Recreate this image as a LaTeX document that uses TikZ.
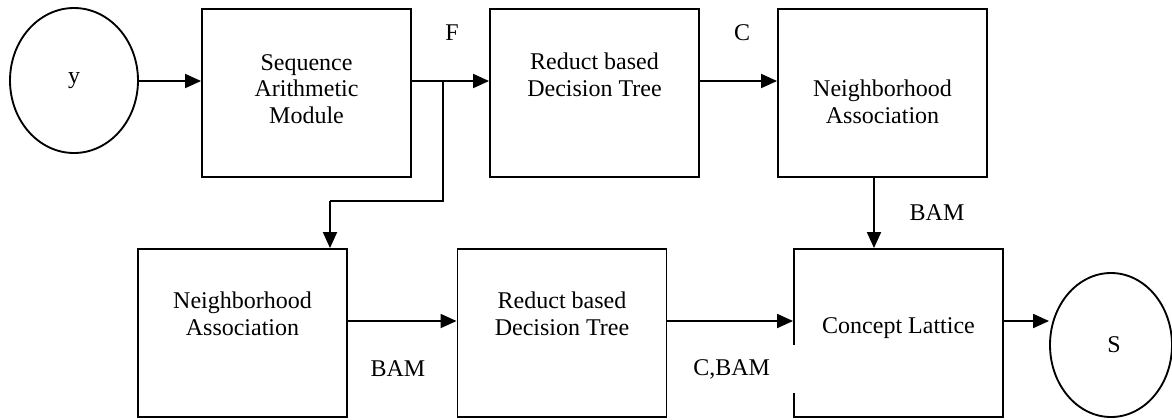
\documentclass[tikz,border=0pt]{standalone}
\usepackage{fontspec}
\setmainfont{Liberation Serif}
\usetikzlibrary{arrows.meta,shapes.geometric}
\begin{document}
\begin{tikzpicture}[x=0.75pt,y=-0.75pt,
  every node/.style={font=\fontsize{18pt}{20pt}\selectfont},
  boxnode/.style={draw,line width=1.4pt,minimum width=156.75pt,minimum height=126pt,inner sep=0pt},
  txt/.style={align=center,inner sep=0pt},
  ell/.style={draw,ellipse,line width=1.4pt,inner sep=0pt},
  arr/.style={line width=1.4pt,-{Triangle[length=12pt,width=10.5pt]}},
  lbl/.style={inner sep=0pt}]
\useasboundingbox (0,0) rectangle (1172,419);
% circles
\node[ell,minimum width=96pt,minimum height=108.75pt] (y) at (74,80.5) {};
\node[lbl] (ytxt) at (74,81) {y};
\node[ell,minimum width=91.5pt,minimum height=108pt] (S) at (1111,345) {};
\node[lbl] (stxt) at (1114,345) {S};
% boxes
\node[boxnode] (b1) at (306.5,93) {};
\node[boxnode] (b2) at (594.5,93) {};
\node[boxnode] (b3) at (882.5,93) {};
\node[boxnode] (b4) at (242.5,333) {};
\node[boxnode] (b5) at (562,333) {};
\node[boxnode] (b6) at (898.5,333) {};
% box texts
\node[txt] (t1) at (306.5,89) {Sequence\\Arithmetic\\Module};
\node[txt] (t2) at (594.5,75) {Reduct based\\Decision Tree};
\node[txt] (t3) at (882.5,102) {Neighborhood\\Association};
\node[txt] (t4) at (242.5,314) {Neighborhood\\Association};
\node[txt] (t5) at (562,314) {Reduct based\\Decision Tree};
\node[txt] (t6) at (898.5,328) {Concept Lattice};
% coordinates
\coordinate (split) at (443,81);
\coordinate (bend) at (330,201);
\coordinate (drop) at (874,0);
\coordinate (row2) at (0,321);
% connectors
\draw[arr] (y.east |- split) -- (b1.west |- split);
\draw[arr] (b1.east |- split) -- (b2.west |- split);
\draw[line width=1.4pt] (split) |- (bend);
\draw[arr] (bend) -- (b4.north -| bend);
\draw[arr] (b2.east |- split) -- (b3.west |- split);
\draw[arr] (b3.south -| drop) -- (b6.north -| drop);
\draw[arr] (b4.east |- row2) -- (b5.west |- row2);
\draw[arr] (b5.east |- row2) -- (b6.west |- row2);
\draw[arr] (b6.east |- row2) -- (S.west |- row2);
% labels
\node[lbl] (lF) at (452,33) {F};
\node[lbl] (lC) at (742,33) {C};
\node[lbl] (lB1) at (937,213) {BAM};
\node[lbl] (lB2) at (398,369) {BAM};
\node[fill=white,anchor=west,text width=78pt,align=left,minimum height=36pt,inner sep=0pt] (lCB) at (693,369) {C,BAM};
\end{tikzpicture}
\end{document}
